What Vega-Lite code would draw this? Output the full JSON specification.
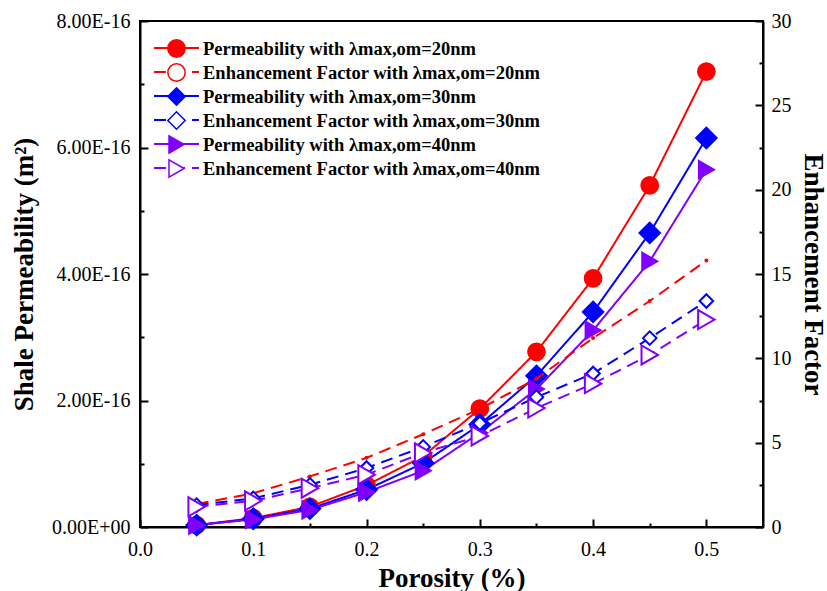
{
  "$schema": "https://vega.github.io/schema/vega-lite/v6.json",
  "width": 623,
  "height": 506,
  "autosize": "none",
  "padding": {"left": 140, "top": 21, "right": 64, "bottom": 64},
  "background": "white",
  "config": {
    "font": "Liberation Serif",
    "view": {"stroke": "black", "strokeWidth": 2},
    "axis": {
      "grid": false,
      "zindex": 1,
      "ticks": true,
      "domainColor": "black",
      "domainWidth": 2,
      "tickColor": "black",
      "tickWidth": 2,
      "tickOpacity": 1,
      "tickSize": -8,
      "labelColor": "black",
      "titleColor": "black",
      "labelFontSize": 20,
      "titleFontSize": 27,
      "titleFontWeight": "bold",
      "labelFlush": false,
      "labelOverlap": false
    }
  },
  "data": {
    "values": [
      {"p": 0.05, "series": "Permeability with λmax,om=20nm", "perm": 3e-18},
      {"p": 0.10, "series": "Permeability with λmax,om=20nm", "perm": 1.4e-17},
      {"p": 0.15, "series": "Permeability with λmax,om=20nm", "perm": 3.2e-17},
      {"p": 0.20, "series": "Permeability with λmax,om=20nm", "perm": 6.6e-17},
      {"p": 0.25, "series": "Permeability with λmax,om=20nm", "perm": 1.12e-16},
      {"p": 0.30, "series": "Permeability with λmax,om=20nm", "perm": 1.87e-16},
      {"p": 0.35, "series": "Permeability with λmax,om=20nm", "perm": 2.77e-16},
      {"p": 0.40, "series": "Permeability with λmax,om=20nm", "perm": 3.93e-16},
      {"p": 0.45, "series": "Permeability with λmax,om=20nm", "perm": 5.40e-16},
      {"p": 0.50, "series": "Permeability with λmax,om=20nm", "perm": 7.20e-16},
      {"p": 0.05, "series": "Permeability with λmax,om=30nm", "perm": 3e-18},
      {"p": 0.10, "series": "Permeability with λmax,om=30nm", "perm": 1.3e-17},
      {"p": 0.15, "series": "Permeability with λmax,om=30nm", "perm": 2.9e-17},
      {"p": 0.20, "series": "Permeability with λmax,om=30nm", "perm": 5.9e-17},
      {"p": 0.25, "series": "Permeability with λmax,om=30nm", "perm": 1.01e-16},
      {"p": 0.30, "series": "Permeability with λmax,om=30nm", "perm": 1.62e-16},
      {"p": 0.35, "series": "Permeability with λmax,om=30nm", "perm": 2.39e-16},
      {"p": 0.40, "series": "Permeability with λmax,om=30nm", "perm": 3.40e-16},
      {"p": 0.45, "series": "Permeability with λmax,om=30nm", "perm": 4.65e-16},
      {"p": 0.50, "series": "Permeability with λmax,om=30nm", "perm": 6.15e-16},
      {"p": 0.05, "series": "Permeability with λmax,om=40nm", "perm": 3e-18},
      {"p": 0.10, "series": "Permeability with λmax,om=40nm", "perm": 1.2e-17},
      {"p": 0.15, "series": "Permeability with λmax,om=40nm", "perm": 2.7e-17},
      {"p": 0.20, "series": "Permeability with λmax,om=40nm", "perm": 5.5e-17},
      {"p": 0.25, "series": "Permeability with λmax,om=40nm", "perm": 8.9e-17},
      {"p": 0.30, "series": "Permeability with λmax,om=40nm", "perm": 1.49e-16},
      {"p": 0.35, "series": "Permeability with λmax,om=40nm", "perm": 2.18e-16},
      {"p": 0.40, "series": "Permeability with λmax,om=40nm", "perm": 3.11e-16},
      {"p": 0.45, "series": "Permeability with λmax,om=40nm", "perm": 4.20e-16},
      {"p": 0.50, "series": "Permeability with λmax,om=40nm", "perm": 5.65e-16},
      {"p": 0.05, "series": "Enhancement Factor with λmax,om=20nm", "ef": 1.36},
      {"p": 0.10, "series": "Enhancement Factor with λmax,om=20nm", "ef": 2.0},
      {"p": 0.15, "series": "Enhancement Factor with λmax,om=20nm", "ef": 3.0},
      {"p": 0.20, "series": "Enhancement Factor with λmax,om=20nm", "ef": 4.1},
      {"p": 0.25, "series": "Enhancement Factor with λmax,om=20nm", "ef": 5.5},
      {"p": 0.30, "series": "Enhancement Factor with λmax,om=20nm", "ef": 7.0},
      {"p": 0.35, "series": "Enhancement Factor with λmax,om=20nm", "ef": 8.8},
      {"p": 0.40, "series": "Enhancement Factor with λmax,om=20nm", "ef": 11.2},
      {"p": 0.45, "series": "Enhancement Factor with λmax,om=20nm", "ef": 13.4},
      {"p": 0.50, "series": "Enhancement Factor with λmax,om=20nm", "ef": 15.8},
      {"p": 0.05, "series": "Enhancement Factor with λmax,om=30nm", "ef": 1.3},
      {"p": 0.10, "series": "Enhancement Factor with λmax,om=30nm", "ef": 1.7},
      {"p": 0.15, "series": "Enhancement Factor with λmax,om=30nm", "ef": 2.5},
      {"p": 0.20, "series": "Enhancement Factor with λmax,om=30nm", "ef": 3.5},
      {"p": 0.25, "series": "Enhancement Factor with λmax,om=30nm", "ef": 4.75},
      {"p": 0.30, "series": "Enhancement Factor with λmax,om=30nm", "ef": 6.15},
      {"p": 0.35, "series": "Enhancement Factor with λmax,om=30nm", "ef": 7.7},
      {"p": 0.40, "series": "Enhancement Factor with λmax,om=30nm", "ef": 9.1},
      {"p": 0.45, "series": "Enhancement Factor with λmax,om=30nm", "ef": 11.2},
      {"p": 0.50, "series": "Enhancement Factor with λmax,om=30nm", "ef": 13.4},
      {"p": 0.05, "series": "Enhancement Factor with λmax,om=40nm", "ef": 1.2},
      {"p": 0.10, "series": "Enhancement Factor with λmax,om=40nm", "ef": 1.55},
      {"p": 0.15, "series": "Enhancement Factor with λmax,om=40nm", "ef": 2.3},
      {"p": 0.20, "series": "Enhancement Factor with λmax,om=40nm", "ef": 3.1},
      {"p": 0.25, "series": "Enhancement Factor with λmax,om=40nm", "ef": 4.4},
      {"p": 0.30, "series": "Enhancement Factor with λmax,om=40nm", "ef": 5.4},
      {"p": 0.35, "series": "Enhancement Factor with λmax,om=40nm", "ef": 7.05},
      {"p": 0.40, "series": "Enhancement Factor with λmax,om=40nm", "ef": 8.5},
      {"p": 0.45, "series": "Enhancement Factor with λmax,om=40nm", "ef": 10.2},
      {"p": 0.50, "series": "Enhancement Factor with λmax,om=40nm", "ef": 12.3}
    ]
  },
  "encoding": {
    "x": {
      "field": "p",
      "type": "quantitative",
      "scale": {"domain": [0, 0.55], "nice": false},
      "axis": {
        "title": "Porosity (%)",
        "values": [0, 0.05, 0.1, 0.15, 0.2, 0.25, 0.3, 0.35, 0.4, 0.45, 0.5],
        "labelExpr": "round(datum.value*100)%10==0 ? format(datum.value,'.1f') : ''",
        "tickDash": {"condition": {"test": "round(datum.value*100)%10!=0", "value": [4, 20]}, "value": [1, 0]},
        "labelPadding": 20,
        "titlePadding": 6
      }
    }
  },
  "layer": [
    {
      "transform": [{"filter": "isValid(datum.perm)"}],
      "encoding": {
        "y": {
          "field": "perm",
          "type": "quantitative",
          "scale": {"domain": [0, 8e-16], "nice": false},
          "axis": {
            "orient": "left",
            "title": "Shale Permeability (m²)",
            "values": [0, 1e-16, 2e-16, 3e-16, 4e-16, 5e-16, 6e-16, 7e-16, 8e-16],
            "labelExpr": "round(datum.value*1e16)%2==0 ? (datum.value==0 ? '0.00E+00' : format(datum.value*1e16,'.2f')+'E-16') : ''",
            "tickDash": {"condition": {"test": "round(datum.value*1e16)%2!=0", "value": [4, 20]}, "value": [1, 0]},
            "labelPadding": 18,
            "titlePadding": 13
          }
        }
      },
      "layer": [
        {
          "mark": {"type": "line", "strokeWidth": 2},
          "encoding": {
            "color": {
              "field": "series", "type": "nominal",
              "scale": {
                "domain": ["Permeability with λmax,om=20nm", "Enhancement Factor with λmax,om=20nm", "Permeability with λmax,om=30nm", "Enhancement Factor with λmax,om=30nm", "Permeability with λmax,om=40nm", "Enhancement Factor with λmax,om=40nm"],
                "range": ["#ff0000", "#ff0000", "#0000ff", "#0000ff", "#8000ff", "#8000ff"]
              },
              "legend": {
                "orient": "top-left", "offset": 12, "padding": 4, "title": null,
                "symbolType": "M-2.25,0H2.25", "symbolSize": 400, "symbolStrokeWidth": 2,
                "labelExpr": "''", "labelFontSize": 18.5, "labelFontWeight": "bold", "labelLimit": 0,
                "rowPadding": 3, "symbolOffset": 9.5, "zindex": 1,
                "encode": {"symbols": {"update": {"strokeDash": {"scale": "strokeDash", "field": "value"}, "stroke": {"scale": "color", "field": "value"}, "fill": {"value": "transparent"}}}}
              }
            },
            "strokeDash": {
              "field": "series", "type": "nominal",
              "scale": {
                "domain": ["Permeability with λmax,om=20nm", "Enhancement Factor with λmax,om=20nm", "Permeability with λmax,om=30nm", "Enhancement Factor with λmax,om=30nm", "Permeability with λmax,om=40nm", "Enhancement Factor with λmax,om=40nm"],
                "range": [[1, 0], [12, 7], [1, 0], [12, 7], [1, 0], [12, 7]]
              },
              "legend": null
            }
          }
        },
        {
          "mark": {"type": "point", "filled": true, "strokeWidth": 2, "opacity": 1},
          "encoding": {
            "shape": {"field": "series", "type": "nominal",
              "scale": {"domain": ["Permeability with λmax,om=20nm", "Enhancement Factor with λmax,om=20nm", "Permeability with λmax,om=30nm", "Enhancement Factor with λmax,om=30nm", "Permeability with λmax,om=40nm", "Enhancement Factor with λmax,om=40nm"], "range": ["circle", "circle", "diamond", "diamond", "triangle-right", "triangle-right"]},
              "legend": {
                "orient": "none", "legendX": 16, "legendY": 14, "padding": 4, "title": null,
                "labelFontSize": 18.5, "labelFontWeight": "bold", "labelColor": "black", "labelLimit": 0,
                "labelOffset": 17, "rowPadding": -1, "zindex": 2, "symbolSize": 300, "symbolOffset": 7,
                "encode": {"symbols": {"update": {"fill": {"scale": "fill", "field": "value"}, "stroke": {"scale": "stroke", "field": "value"}, "size": {"scale": "size", "field": "value"}, "strokeWidth": {"value": 2}, "opacity": {"value": 1}}}}
              }},
            "fill": {"field": "series", "type": "nominal",
              "scale": {"domain": ["Permeability with λmax,om=20nm", "Enhancement Factor with λmax,om=20nm", "Permeability with λmax,om=30nm", "Enhancement Factor with λmax,om=30nm", "Permeability with λmax,om=40nm", "Enhancement Factor with λmax,om=40nm"], "range": ["#ff0000", "white", "#0000ff", "white", "#8000ff", "white"]},
              "legend": null},
            "stroke": {"field": "series", "type": "nominal",
              "scale": {"domain": ["Permeability with λmax,om=20nm", "Enhancement Factor with λmax,om=20nm", "Permeability with λmax,om=30nm", "Enhancement Factor with λmax,om=30nm", "Permeability with λmax,om=40nm", "Enhancement Factor with λmax,om=40nm"], "range": ["#ff0000", "#ff0000", "#0000ff", "#0000ff", "#8000ff", "#8000ff"]},
              "legend": null},
            "size": {"field": "series", "type": "nominal",
              "scale": {"type": "ordinal", "domain": ["Permeability with λmax,om=20nm", "Enhancement Factor with λmax,om=20nm", "Permeability with λmax,om=30nm", "Enhancement Factor with λmax,om=30nm", "Permeability with λmax,om=40nm", "Enhancement Factor with λmax,om=40nm"], "range": [280, 280, 420, 420, 300, 300]},
              "legend": null}
          }
        }
      ]
    },
    {
      "transform": [{"filter": "isValid(datum.ef)"}],
      "encoding": {
        "y": {
          "field": "ef",
          "type": "quantitative",
          "scale": {"domain": [0, 30], "nice": false},
          "axis": {
            "orient": "right",
            "title": "Enhancement Factor",
            "values": [0, 2.5, 5, 7.5, 10, 12.5, 15, 17.5, 20, 22.5, 25, 27.5, 30],
            "labelExpr": "datum.value%5==0 ? format(datum.value,'d') : ''",
            "tickDash": {"condition": {"test": "datum.value%5!=0", "value": [4, 20]}, "value": [1, 0]},
            "labelPadding": 16,
            "titlePadding": 7
          }
        }
      },
      "layer": [
        {
          "mark": {"type": "line", "strokeWidth": 2},
          "encoding": {
            "color": {"field": "series", "type": "nominal"},
            "strokeDash": {"field": "series", "type": "nominal", "legend": null}
          }
        },
        {
          "mark": {"type": "point", "filled": true, "strokeWidth": 2, "opacity": 1},
          "encoding": {
            "shape": {"field": "series", "type": "nominal"},
            "fill": {"field": "series", "type": "nominal", "legend": null},
            "stroke": {"field": "series", "type": "nominal", "legend": null},
            "size": {"field": "series", "type": "nominal", "legend": null}
          }
        }
      ]
    }
  ],
  "resolve": {"scale": {"y": "independent"}}
}
